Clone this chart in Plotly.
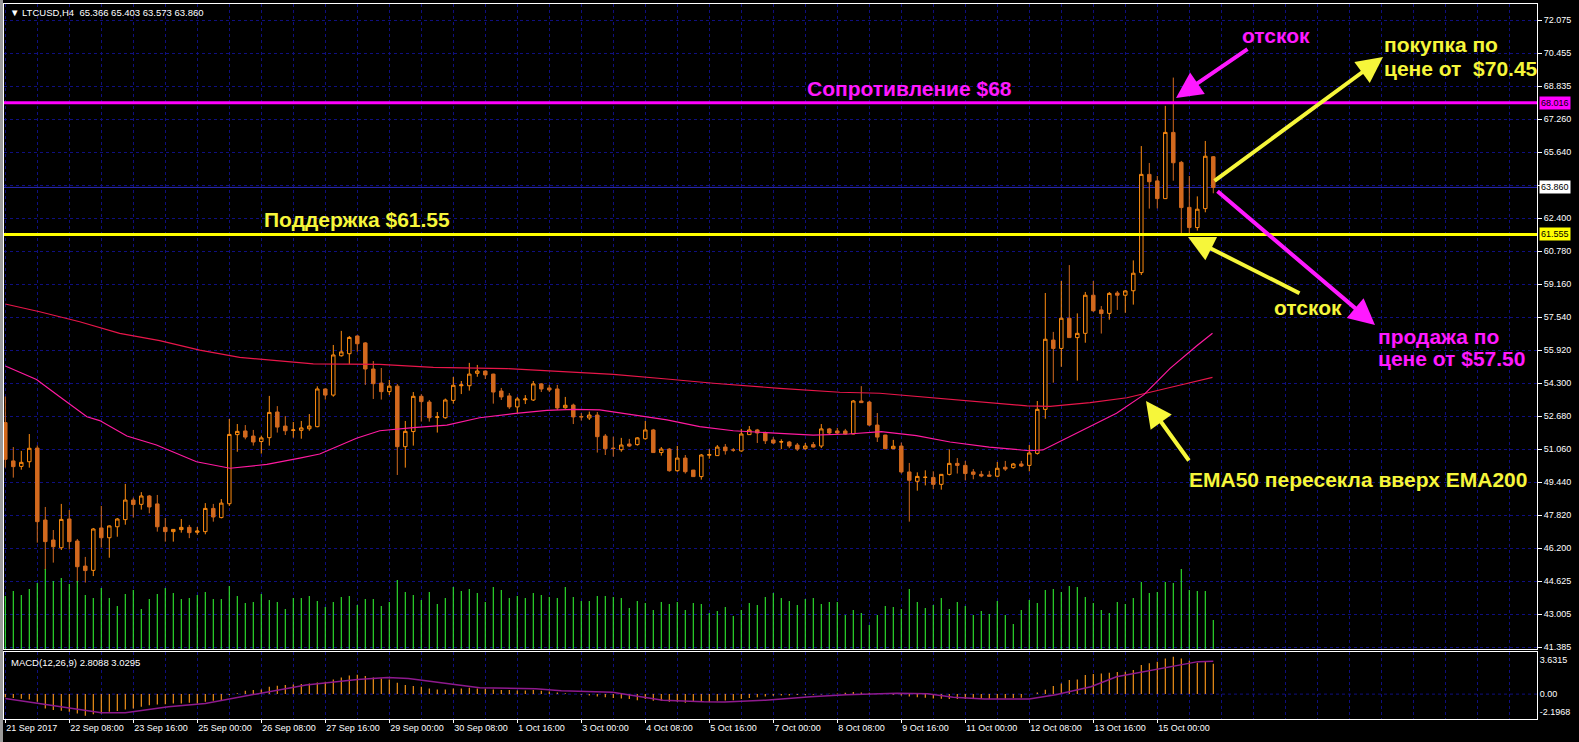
import plotly.graph_objects as go

# ---------------- data ----------------
bars = list(range(152))
opens = [52.32,50.44,50.17,50.40,51.07,47.54,46.56,46.18,47.59,46.51,
         45.28,45.07,47.15,46.67,47.21,47.56,48.52,48.31,48.72,48.33,
         47.18,46.97,47.07,47.18,46.94,46.97,48.11,47.66,48.34,51.73,
         51.91,51.66,51.39,51.58,52.84,52.15,51.94,51.94,52.02,52.12,
         53.97,53.67,55.60,55.70,56.57,56.23,54.95,54.26,53.84,54.11,
         51.14,51.88,53.61,53.33,52.58,52.56,53.41,54.13,54.13,54.74,
         54.85,54.70,53.87,53.63,53.09,53.44,53.43,54.22,54.02,53.97,
         53.05,53.18,52.62,52.55,52.69,51.66,51.07,50.99,51.27,51.24,
         51.53,51.96,50.85,51.02,49.96,50.58,49.99,49.67,50.72,50.70,
         51.12,50.98,50.93,51.73,51.96,51.83,51.47,51.37,51.37,51.22,
         51.04,51.24,51.17,52.01,51.91,51.91,51.76,53.38,53.33,52.20,
         51.71,51.04,51.17,49.90,49.44,49.63,49.63,49.29,49.78,50.32,
         50.22,49.90,49.78,49.75,49.69,50.13,50.11,50.29,50.22,50.81,
         52.97,56.37,55.96,57.44,56.49,56.70,58.57,57.85,57.68,58.68,
         58.57,58.79,59.68,64.50,64.18,63.31,66.56,65.09,62.88,61.89,
         62.82,65.366]
highs = [53.60,51.12,50.93,51.76,51.20,48.18,47.05,48.33,48.03,46.61,
         45.73,47.15,48.23,47.28,47.64,49.31,48.64,48.91,48.77,48.77,
         47.64,47.10,47.59,47.30,47.20,48.37,48.33,48.57,52.50,52.25,
         52.20,51.96,51.68,53.63,53.13,52.64,52.35,52.40,52.74,54.10,
         54.00,56.13,56.82,56.57,56.60,56.27,55.34,55.00,54.41,54.21,
         52.40,53.82,53.71,53.43,52.84,53.50,54.56,54.36,55.25,55.15,
         54.87,54.72,54.02,53.77,53.58,53.67,54.36,54.26,54.17,54.17,
         53.58,53.25,52.79,52.86,52.84,51.76,51.63,51.57,51.52,51.61,
         52.40,52.01,51.12,51.07,51.17,50.73,50.00,50.78,51.02,51.22,
         51.27,51.07,52.01,52.15,52.01,51.88,51.61,51.50,51.42,51.32,
         51.32,51.37,52.25,52.06,52.06,52.01,53.43,54.11,53.38,52.79,
         51.72,51.47,51.34,50.34,49.88,49.98,49.93,49.79,51.01,50.58,
         50.44,50.04,49.95,49.95,50.39,50.44,50.34,50.44,51.22,53.38,
         58.68,56.77,59.27,60.05,57.68,58.73,59.27,58.04,58.73,58.78,
         58.83,60.28,65.89,65.06,64.42,67.86,69.25,65.16,64.42,63.42,
         66.14,65.403]
lows = [50.11,49.62,50.01,50.11,46.43,45.09,45.45,46.07,46.10,44.47,
        44.47,44.79,46.19,45.69,46.72,47.31,47.66,48.05,47.87,46.97,
        46.48,46.48,46.92,46.65,46.82,46.84,47.46,47.62,48.23,50.89,
        51.50,51.19,50.80,51.19,51.83,51.71,51.58,51.53,51.92,52.09,
        53.45,53.59,55.56,55.20,55.80,54.17,53.48,53.45,53.67,49.75,
        50.11,51.19,52.37,52.37,51.83,52.51,53.25,53.72,53.89,54.57,
        54.46,53.25,53.43,52.99,52.79,53.23,53.38,53.82,53.82,52.94,
        53.00,52.25,52.42,52.45,50.85,50.73,50.65,50.89,51.12,51.19,
        51.48,50.83,50.70,49.91,49.91,49.82,49.66,49.52,50.55,50.69,
        50.75,50.89,50.89,51.72,51.32,51.27,51.27,51.02,51.07,50.93,
        50.99,51.10,51.07,51.73,51.73,51.73,51.75,53.30,52.15,51.37,
        51.02,51.02,49.82,47.46,48.98,49.24,49.05,49.03,49.73,49.82,
        49.49,49.54,49.64,49.67,49.64,49.95,50.06,50.14,49.93,50.75,
        52.51,54.28,55.06,56.49,54.38,56.24,57.75,56.69,57.37,57.85,
        57.71,58.11,59.56,62.82,62.83,63.30,64.19,61.61,61.61,61.74,
        62.64,63.573]
closes = [50.52,50.16,50.37,51.06,47.46,46.48,46.23,47.57,46.48,45.25,
          45.06,47.10,46.67,47.25,47.59,48.52,48.30,48.72,48.18,47.21,
          46.97,47.08,47.18,46.92,47.00,48.11,47.69,48.37,51.74,51.89,
          51.61,51.37,51.57,52.82,52.10,51.92,51.96,52.06,52.15,53.97,
          53.67,55.64,55.79,56.50,56.19,54.95,54.23,53.84,54.11,51.14,
          51.89,53.61,53.35,52.56,52.60,53.43,54.15,54.17,54.70,54.85,
          54.66,53.82,53.58,53.09,53.48,53.48,54.22,53.97,53.92,53.04,
          53.17,52.60,52.60,52.69,51.63,51.04,51.05,51.22,51.17,51.57,
          51.96,50.85,51.02,49.96,50.58,49.91,49.67,50.73,50.75,51.12,
          50.94,50.97,51.76,51.96,51.81,51.43,51.32,51.38,51.17,51.02,
          51.17,51.12,52.01,51.81,51.81,51.76,53.38,53.30,52.20,51.61,
          51.04,51.16,49.90,49.49,49.68,49.64,49.29,49.78,50.32,50.22,
          49.82,49.78,49.70,49.69,50.08,50.04,50.29,50.19,50.83,52.97,
          56.41,55.96,57.44,56.49,56.70,58.57,57.81,57.67,58.66,58.57,
          58.78,59.65,64.50,64.14,63.31,66.56,65.07,62.87,61.89,62.79,
          65.39,63.860]
volumes = [1590,1740,1620,1800,1980,2400,2040,2130,1950,2040,
           1620,1530,1830,1530,1290,1650,1770,1200,1500,1650,
           1830,1680,1500,1530,1620,1710,1500,1500,1890,1590,
           1380,1410,1650,1470,1410,1200,1530,1530,1590,1440,
           1260,1410,1560,1590,1320,1500,1500,1290,1410,2070,
           1710,1620,1470,1710,1350,1530,1860,1740,1800,1680,
           1410,1860,1770,1530,1590,1530,1680,1620,1560,1530,
           1860,1560,1440,1440,1590,1590,1560,1530,1230,1440,
           1380,1170,1410,1350,1410,1170,1380,1350,1080,1140,
           1260,990,1170,1380,1320,1560,1680,1530,1440,1320,
           1500,1530,1350,1410,1410,1020,1170,1080,720,1020,
           1290,1260,1200,1800,1410,1230,1320,1530,1200,1410,
           1290,1020,1140,1050,1440,1020,750,1170,1470,1380,
           1770,1800,1710,1890,1860,1560,1380,1170,1080,1410,
           1350,1530,2010,1680,1710,2010,1980,2400,1770,1740,
           1740,870]
macd_hist = [-0.30,-0.35,-0.42,-0.50,-0.71,-1.32,-1.48,-1.54,-1.63,-1.79,
             -2.00,-1.85,-1.79,-1.63,-1.57,-1.42,-1.32,-1.17,-1.02,-0.96,
             -0.93,-0.86,-0.86,-0.80,-0.86,-0.71,-0.62,-0.56,-0.09,0.09,
             0.31,0.37,0.43,0.68,0.77,0.83,0.89,0.93,0.99,1.08,
             1.14,1.36,1.54,1.73,1.79,1.67,1.54,1.45,1.36,1.05,
             0.83,0.74,0.68,0.52,0.43,0.43,0.52,0.52,0.59,0.52,
             0.49,0.43,0.37,0.37,0.34,0.34,0.37,0.31,0.25,0.15,
             0.09,0.00,-0.06,-0.12,-0.22,-0.28,-0.37,-0.40,-0.46,-0.56,
             -0.46,-0.62,-0.62,-0.71,-0.71,-0.80,-0.74,-0.71,-0.74,-0.62,
             -0.59,-0.56,-0.46,-0.37,-0.28,-0.22,-0.15,-0.12,-0.12,-0.09,
             -0.09,-0.06,-0.03,0.03,0.06,0.12,0.19,0.15,0.12,0.06,
             0.00,-0.06,-0.12,-0.22,-0.28,-0.34,-0.40,-0.43,-0.46,-0.46,
             -0.46,-0.46,-0.46,-0.46,-0.43,-0.40,-0.37,-0.34,0.00,0.15,
             0.40,0.74,0.99,1.30,1.36,1.76,1.85,1.91,1.97,2.04,
             2.07,2.22,2.68,2.84,2.99,3.30,3.45,3.30,3.08,2.90,
             3.00,2.8088]
signal_x = [0,12,15,20.4,25,31,37.6,44,47.8,50.4,54.8,59.3,66.3,69.5,75.9,79.7,82.2,
            87.3,89.9,95,98.8,100.7,105.1,111.5,115.3,118.5,122.4,128,131.3,135.7,
            138.9,143.4,147.2,149.1,151]
signal_y = [-0.40,-1.73,-1.73,-1.17,-0.86,-0.06,0.85,1.36,1.54,1.45,1.00,0.59,0.50,0.32,
            0.16,-0.25,-0.56,-0.71,-0.74,-0.56,-0.40,-0.25,-0.06,0.09,0.03,-0.28,-0.46,
            -0.46,-0.06,0.68,1.60,2.22,2.68,3.00,3.0295]
ema200_x = [0,4.3,9.3,14.3,19.3,24.3,29.3,34.3,38.5,46.8,53.5,62.7,69,76,82.7,88.5,96.8,
            104.3,109.3,113.9,122.3,127.7,130.6,135.6,140.2,143,147.3,150.9]
ema200_y = [58.14,57.76,57.27,56.70,56.34,55.88,55.52,55.34,55.20,55.18,55.03,54.97,54.85,
            54.69,54.46,54.25,54.00,53.81,53.76,53.61,53.35,53.14,53.12,53.30,53.54,53.79,
            54.20,54.54]
ema50_x = [0,3.9,6.8,10.2,11.8,15.2,18.9,23.9,28.1,32.7,36.8,39.3,43.9,46.8,51,55.2,59.3,
           63.5,67.7,71,74.3,78.5,82.7,86.8,91,96.8,101,105.4,109.5,113.9,118.1,123,128,
           129.7,134.8,138.9,142.3,145.6,148.9,150.9]
ema50_y = [55.10,54.44,53.59,52.61,52.42,51.66,51.22,50.40,50.08,50.27,50.58,50.78,51.55,
           51.92,52.07,52.20,52.56,52.76,52.92,52.97,52.94,52.68,52.45,52.12,51.92,51.79,
           51.71,51.76,51.88,51.68,51.37,51.12,50.94,50.98,51.99,52.78,53.68,54.98,56.08,
           56.70]
date_bars = [0,8,16,24,32,40,48,56,64,72,80,88,96,104,112,120,128,136,144]
date_labels = ["21 Sep 2017","22 Sep 08:00","23 Sep 16:00","25 Sep 00:00","26 Sep 08:00",
               "27 Sep 16:00","29 Sep 00:00","30 Sep 08:00","1 Oct 16:00","3 Oct 00:00",
               "4 Oct 08:00","5 Oct 16:00","7 Oct 00:00","8 Oct 08:00","9 Oct 16:00",
               "11 Oct 00:00","12 Oct 08:00","13 Oct 16:00","15 Oct 00:00"]
price_ticks = [72.075,70.455,68.835,67.215,65.595,63.975,62.355,60.735,59.115,57.495,
               55.875,54.255,52.635,51.015,49.395,47.775,46.155,44.535,42.915,41.295]
price_labels = ["72.075","70.455","68.835","67.260","65.640","","62.400","60.780","59.160",
                "57.540","55.920","54.300","52.680","51.060","49.440","47.820","46.200",
                "44.625","43.005","41.385"]
resistance = 68.016
support = 61.555
last_price = 63.860

# ---------------- geometry helpers ----------------
W, H = 1579, 742
PL, PR, PT, PB = 4, 1537, 4, 719
def px(x):
    return (x - PL) / (PR - PL)
def py(y):
    return (PB - y) / (PB - PT)

GRID = "#0f0f80"
FONT = "Liberation Sans, Arial, sans-serif"
YEL = "#f6f63a"
MAG = "#ff19ff"

fig = go.Figure()

fig.add_trace(go.Bar(x=bars, y=volumes, width=0.14, marker=dict(color="#2ee62e", line=dict(width=0)),
                     xaxis="x", yaxis="y3"))
fig.add_trace(go.Scatter(x=ema200_x, y=ema200_y, mode="lines", line=dict(color="#e8164a", width=1.2),
                         xaxis="x", yaxis="y"))
fig.add_trace(go.Scatter(x=ema50_x, y=ema50_y, mode="lines", line=dict(color="#ff1aa0", width=1.2),
                         xaxis="x", yaxis="y"))
fig.add_trace(go.Candlestick(x=bars, open=opens, high=highs, low=lows, close=closes,
                             increasing=dict(line=dict(color="#ff8c10", width=1), fillcolor="#000000"),
                             decreasing=dict(line=dict(color="#d2691e", width=1), fillcolor="#d2691e"),
                             whiskerwidth=0, xaxis="x", yaxis="y"))
fig.add_trace(go.Bar(x=bars, y=macd_hist, width=0.14, marker=dict(color="#ff9a1a", line=dict(width=0)),
                     xaxis="x2", yaxis="y2"))
fig.add_trace(go.Scatter(x=signal_x, y=signal_y, mode="lines", line=dict(color="#8e1a8e", width=1.5),
                         xaxis="x2", yaxis="y2"))

xr = [(PL - 5.3) / 8, (PR - 5.3) / 8]
common_x = dict(range=xr, type="linear", showgrid=True, gridcolor=GRID, griddash="3px,3px",
                gridwidth=1, zeroline=False, showline=True, mirror=True, linecolor="#ffffff",
                linewidth=1, minor=dict(tick0=0, dtick=4, showgrid=True, gridcolor=GRID,
                                         griddash="3px,3px", ticks=""))

fig.update_layout(
    width=W, height=H, paper_bgcolor="#000000", plot_bgcolor="#000000",
    margin=dict(l=PL, r=W - PR, t=PT, b=H - PB, autoexpand=False),
    showlegend=False, hovermode=False, barmode="overlay", boxgap=0.38,
    xaxis=dict(domain=[0, 1], anchor="y", tickvals=date_bars, showticklabels=False, ticks="",
               rangeslider=dict(visible=False), automargin=False, **common_x),
    xaxis2=dict(domain=[0, 1], anchor="y2", matches="x", tickvals=date_bars, ticktext=date_labels,
                ticks="outside", ticklen=3, tickcolor="#ffffff",
                ticklabelposition="outside right", automargin=False,
                tickfont=dict(family=FONT, size=9, color="#ffffff"), **common_x),
    yaxis=dict(domain=[py(649), 1], anchor="x", side="right", automargin=False,
               range=[72.075 - (649 - 20) / 20.38, 72.075 + (20 - PT) / 20.38],
               tickvals=price_ticks, ticktext=price_labels, ticks="outside", ticklen=4,
               tickcolor="#ffffff", tickfont=dict(family=FONT, size=9, color="#ffffff"),
               showgrid=True, gridcolor=GRID, griddash="3px,3px", zeroline=False,
               showline=True, mirror=True, linecolor="#ffffff", linewidth=1),
    yaxis3=dict(domain=[py(649), 1], anchor="x", overlaying="y", range=[0, 645 * 30],
                visible=False),
    yaxis2=dict(domain=[0, py(652)], anchor="x2", side="right", range=[-2.30, 3.89],
                tickvals=[3.15, 0, -1.63], ticktext=["3.6315", "0.00", "-2.1968"], ticks="",
                automargin=False, tickfont=dict(family=FONT, size=9, color="#ffffff"),
                showgrid=False, zeroline=False, showline=True, mirror=True,
                linecolor="#ffffff", linewidth=1),
)

shapes = [
    dict(type="line", xref="paper", x0=0, x1=1, yref="y", y0=last_price, y1=last_price,
         line=dict(color="#2a2ab8", width=1), layer="between"),
    dict(type="line", xref="paper", x0=0, x1=1, yref="y2", y0=0, y1=0,
         line=dict(color=GRID, width=1, dash="3px,3px"), layer="between"),
    dict(type="line", xref="paper", x0=0, x1=1, yref="y", y0=resistance, y1=resistance,
         line=dict(color="#ff00ff", width=3), layer="above"),
    dict(type="line", xref="paper", x0=0, x1=1, yref="y", y0=support, y1=support,
         line=dict(color="#ffff00", width=3), layer="above"),
    dict(type="rect", xref="paper", yref="paper", x0=px(0), x1=px(3), y0=py(742), y1=py(0),
         fillcolor="#9a9a9a", line=dict(width=0), layer="above"),
]
fig.update_layout(shapes=shapes)

ann = []
def text(x, y, s, color, size=21, anchor="center", bold=True):
    ann.append(dict(xref="paper", yref="paper", x=px(x), y=py(y), text=("<b>%s</b>" % s) if bold else s,
                    showarrow=False, xanchor=anchor, yanchor="middle",
                    font=dict(family=FONT, size=size, color=color)))
def arrow(tail, tip, color):
    ann.append(dict(xref="paper", yref="paper", x=px(tip[0]), y=py(tip[1]), text="",
                    showarrow=True, axref="pixel", ayref="pixel",
                    ax=tail[0] - tip[0], ay=tail[1] - tip[1], arrowhead=2, arrowsize=1.3,
                    arrowwidth=4, arrowcolor=color, standoff=0, startstandoff=0))

text(8, 12.5, "▼ LTCUSD,H4  65.366 65.403 63.573 63.860", "#ffffff", size=9.5, anchor="left", bold=False)
text(9, 662, "MACD(12,26,9) 2.8088 3.0295", "#ffffff", size=9.5, anchor="left", bold=False)
text(909, 88.5, "Сопротивление $68", MAG)
text(357, 219.5, "Поддержка $61.55", YEL)
text(1276, 36, "отскок", MAG)
text(1382, 45, "покупка по", YEL, anchor="left")
text(1382, 68.5, "цене от\u00a0\u00a0$70.45", YEL, anchor="left")
text(1376, 336, "продажа по", MAG, anchor="left")
text(1376, 358.5, "цене от $57.50", MAG, anchor="left")
text(1308, 307, "отскок", YEL)
text(1358, 479, "EMA50 пересекла вверх EMA200", YEL)
arrow((1249, 48), (1176, 98), MAG)
arrow((1213, 182), (1383, 57), YEL)
arrow((1216, 190), (1375, 325), MAG)
arrow((1301, 294), (1188, 237), YEL)
arrow((1190, 462), (1146, 401), YEL)

for val, bg in [(resistance, "#ff00ff"), (last_price, "#ffffff"), (support, "#ffff00")]:
    ann.append(dict(xref="paper", yref="y", x=px(1539), y=val, text="%.3f" % val, showarrow=False,
                    xanchor="left", yanchor="middle", bgcolor=bg, borderpad=1,
                    font=dict(family=FONT, size=9, color="#000000")))

fig.update_layout(annotations=ann)
fig.write_html("out.html", config={"displayModeBar": False, "staticPlot": True},
               post_script="document.body.style.margin='0';document.body.style.padding='0';"
                           "document.body.style.overflow='hidden';")
